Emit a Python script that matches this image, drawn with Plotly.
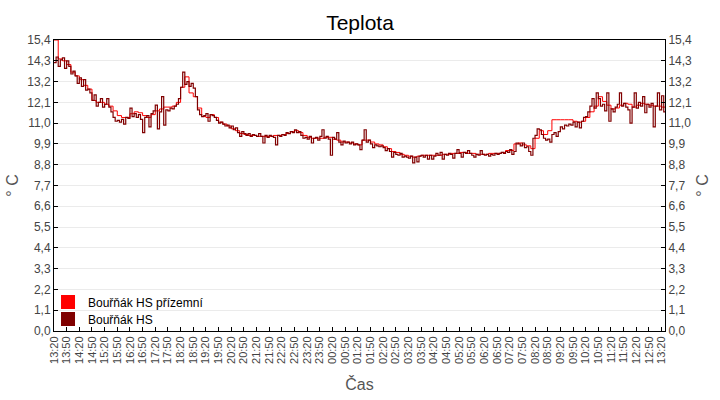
import plotly.graph_objects as go
import pandas as pd

# red series (ground floor): 10-minute samples from 13:20 to 13:30 next day
times_prizemni = pd.date_range("2024-01-01 13:20", periods=146, freq="10min")
prizemni = [
    15.4, 14.4, 14.3, 14.1, 13.7, 13.5, 13.3, 13.0, 12.8, 12.2,
    12.1, 12.1, 12.0, 11.9, 11.65, 11.4, 11.3, 11.3, 11.5, 11.6,
    11.55, 11.4, 11.3, 11.45, 11.65, 11.75, 11.85, 11.85, 11.9, 12.1,
    12.9, 13.45, 12.6, 12.4, 11.8, 11.35, 11.3, 11.45, 11.3, 11.05,
    10.95, 10.85, 10.7, 10.6, 10.45, 10.4, 10.35, 10.35, 10.3, 10.3,
    10.3, 10.3, 10.35, 10.35, 10.4, 10.45, 10.55, 10.6, 10.5, 10.35,
    10.25, 10.2, 10.2, 10.2, 10.25, 10.25, 10.15, 10.1, 10.0, 10.0,
    9.95, 9.9, 9.85, 10.1, 10.1, 10.0, 9.9, 9.85, 9.75, 9.65,
    9.5, 9.45, 9.35, 9.3, 9.25, 9.2, 9.25, 9.3, 9.3, 9.3,
    9.3, 9.3, 9.35, 9.35, 9.4, 9.4, 9.45, 9.45, 9.4, 9.4,
    9.35, 9.35, 9.35, 9.4, 9.4, 9.4, 9.45, 9.55, 9.55, 9.9,
    9.95, 9.85, 9.8, 9.65, 10.2, 10.6, 10.4, 10.6, 11.18, 11.18,
    11.18, 11.18, 11.18, 11.1, 11.05, 11.1, 11.3, 11.6, 11.9, 12.4,
    12.15, 11.95, 11.75, 11.8, 11.95, 12.05, 12.0, 11.85, 11.95, 12.05,
    12.0, 11.95, 11.9, 11.9, 11.85, 12.0,
]

# dark series: 5-minute samples from 13:20 to 13:30 next day (one row per hour)
times_hs = pd.date_range("2024-01-01 13:20", periods=291, freq="5min")
hs = [
    14.2, 14.5, 14.0, 14.35, 14.45, 13.9, 14.3, 14.0, 13.6, 13.75, 13.5, 13.1,
    13.4, 12.95, 13.3, 12.75, 12.8, 12.6, 12.2, 12.5, 11.9, 12.1, 12.3, 11.85,
    12.0, 12.3, 11.85, 11.6, 11.3, 11.1, 11.15, 11.05, 11.2, 10.95, 11.3, 11.25,
    11.8, 11.35, 11.5, 11.3, 11.45, 11.2, 10.5, 11.3, 11.4, 10.8, 11.5, 11.65,
    11.95, 10.7, 11.6, 12.4, 10.9, 11.7, 11.65, 11.8, 11.75, 11.9, 12.0, 12.3,
    12.9, 13.7, 13.05, 13.2, 12.95, 13.1, 12.85, 12.4, 11.7, 11.45, 11.35, 11.4,
    11.5, 11.1, 11.45, 11.4, 11.3, 11.15, 11.0, 11.05, 10.95, 10.85, 10.9, 10.75,
    10.85, 10.65, 10.75, 10.5, 10.3, 10.55, 10.45, 10.35, 10.45, 10.3, 10.4, 10.35,
    10.3, 10.45, 10.3, 9.95, 10.35, 10.25, 10.35, 10.3, 10.25, 9.85, 10.35, 10.3,
    10.4, 10.35, 10.5, 10.45, 10.55, 10.5, 10.65, 10.5, 10.55, 10.35, 10.2, 10.25,
    10.15, 10.3, 9.95, 10.2, 10.25, 10.1, 10.3, 10.65, 10.2, 10.3, 10.15, 9.3,
    10.25, 10.15, 10.5, 10.0, 9.85, 10.05, 9.95, 10.0, 9.9, 10.0, 9.85, 9.9,
    9.85, 9.6, 10.1, 10.65, 10.0, 10.1, 9.9, 9.7, 9.85, 9.8, 9.75, 9.8,
    9.7, 9.55, 9.65, 9.5, 9.2, 9.45, 9.35, 9.3, 9.4, 9.2, 9.25, 9.2,
    9.15, 9.25, 8.9, 9.2, 8.95, 9.25, 9.3, 9.2, 9.3, 9.1, 9.3, 9.1,
    9.25, 9.4, 9.3, 9.45, 9.1, 9.35, 9.3, 9.4, 9.35, 9.15, 9.4, 9.6,
    9.4, 9.2, 9.45, 9.4, 9.55, 9.4, 9.3, 9.2, 9.35, 9.3, 9.55, 9.35,
    9.3, 9.35, 9.25, 9.35, 9.3, 9.4, 9.35, 9.4, 9.45, 9.4, 9.5, 9.45,
    9.6, 9.35, 9.5, 9.95, 9.9, 9.8, 9.95, 9.7, 9.75, 9.5, 9.3, 10.2,
    10.35, 10.7, 10.65, 10.4, 10.2, 10.1, 10.15, 10.0, 10.4, 10.5, 10.3, 10.55,
    10.8, 10.7, 10.9, 10.85, 10.95, 10.9, 11.05, 10.8, 11.05, 10.75, 11.1, 11.3,
    11.35, 11.6, 11.9, 12.3, 11.8, 12.6, 12.3, 11.9, 12.0, 11.65, 12.6, 11.1,
    11.75, 11.6, 11.85, 12.0, 12.6, 11.9, 12.05, 11.85, 11.7, 11.0, 11.85, 12.6,
    11.8, 12.1, 11.9, 12.4, 11.55, 12.0, 11.85, 12.05, 10.8, 11.9, 12.6, 11.7,
    12.45, 11.6, 12.0,
]

series_names = ["Bouřňák HS přízemní", "Bouřňák HS"]
series_colors = ["#ff0000", "#800000"]

y_ticks = [round(1.1 * k, 1) for k in range(15)]

FONT = "Liberation Sans, Arial, sans-serif"

fig = go.Figure()
fig.add_trace(go.Scatter(x=times_prizemni, y=prizemni, mode="lines", line_shape="hv",
                         line=dict(color=series_colors[0], width=1), showlegend=False))
fig.add_trace(go.Scatter(x=times_hs, y=hs, mode="lines", line_shape="hv",
                         line=dict(color=series_colors[1], width=1.2), showlegend=False))
for k, (name, col) in enumerate(zip(series_names, series_colors)):
    fig.add_trace(go.Scatter(x=[None], y=[None], mode="markers", name=name, yaxis="y2",
                             legend="legend" if k == 0 else "legend2",
                             marker=dict(symbol="square", size=14, color=col)))

axis_font = dict(family=FONT, size=12, color="#444444")
title_font = dict(family=FONT, size=16, color="#555555")
legend_common = dict(xanchor="left", yanchor="middle", bgcolor="rgba(0,0,0,0)",
                     font=dict(family=FONT, size=12, color="black"), itemwidth=30,
                     borderwidth=0)

fig.update_layout(
    width=720, height=400,
    margin=dict(l=54, r=55, t=40, b=69),
    paper_bgcolor="white", plot_bgcolor="white",
    separators=", ",
    title=dict(text="Teplota", x=0.5, xanchor="center", y=0.943, yanchor="middle",
               font=dict(family=FONT, size=21, color="black")),
    xaxis=dict(
        type="date", range=["2024-01-01 13:20", "2024-01-02 13:28"], automargin=False,
        tick0="2024-01-01 13:20", dtick=30 * 60 * 1000, tickformat="%H:%M",
        tickangle=-90, tickfont=dict(family=FONT, size=11, color="#444444"),
        ticks="inside", ticklen=4, tickcolor="black",
        showline=True, linecolor="black", linewidth=1, mirror=True,
        showgrid=False, zeroline=False,
        title=dict(text="Čas", font=title_font, standoff=15),
    ),
    yaxis=dict(
        range=[0, 15.4], tickvals=y_ticks, tickformat=".1f", tickfont=axis_font, automargin=False,
        ticks="inside", ticklen=4, tickcolor="black",
        showline=True, linecolor="black", linewidth=1, mirror=True,
        showgrid=True, gridcolor="#ebebeb", gridwidth=1, zeroline=False,
        title=dict(text="° C", font=title_font, standoff=4),
    ),
    yaxis2=dict(
        range=[0, 15.4], tickvals=y_ticks, tickformat=".1f", tickfont=axis_font, automargin=False,
        overlaying="y", side="right",
        ticks="inside", ticklen=4, tickcolor="black",
        showline=True, linecolor="black", linewidth=1,
        showgrid=False, zeroline=False,
        title=dict(text="° C", font=title_font, standoff=5),
    ),
    legend=dict(x=-0.0098, y=0.0997, **legend_common),
    legend2=dict(x=-0.0098, y=0.0412, **legend_common),
)

fig.write_html("out.html", config={"displayModeBar": False},
               post_script="document.body.style.margin='0';")
